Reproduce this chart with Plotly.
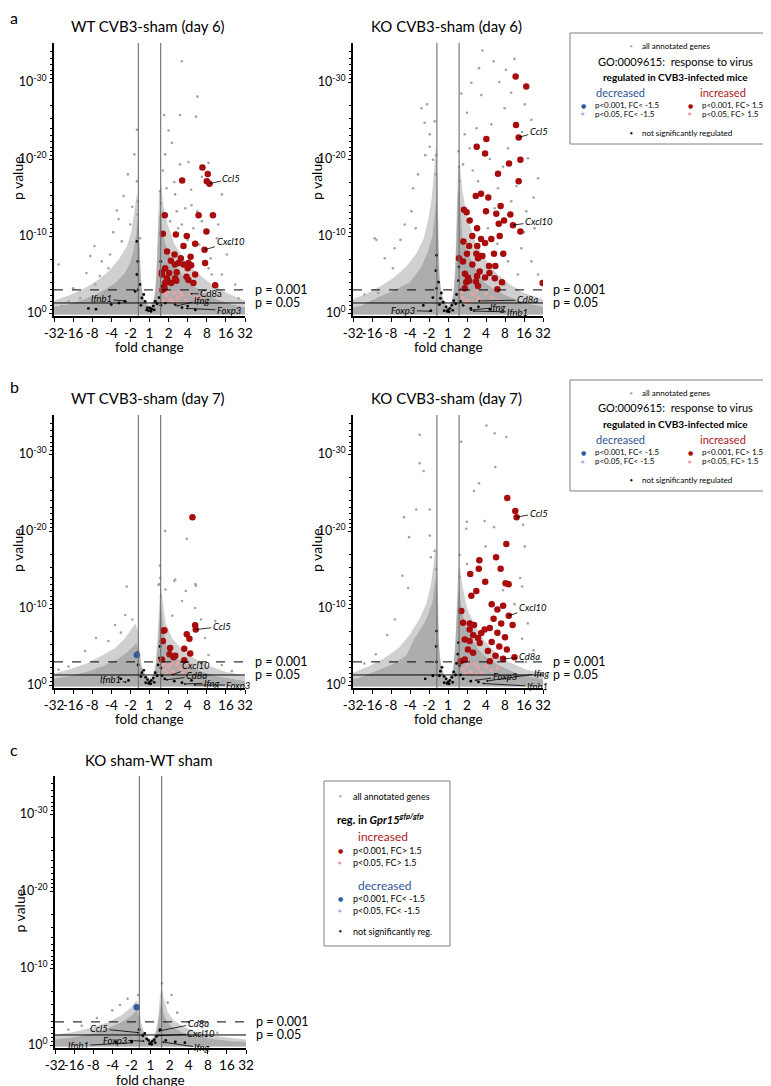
import math
import plotly.graph_objects as go

W, H = 771, 1086
FONT = "Lato"
PPU = 7.7  # pixels per -log10(p) unit

# ---------------- axis ticks ----------------
X_TICK_VALS = [-5, -4, -3, -2, -1, 0, 1, 2, 3, 4, 5]
X_TICK_TEXT = ["-32", "-16", "-8", "-4", "-2", "1", "2", "4", "8", "16", "32"]
Y_TICK_VALS = [0, 10, 20, 30]
Y_TICK_TEXT = ["10<sup>0</sup>", "10<sup>-10</sup>", "10<sup>-20</sup>", "10<sup>-30</sup>"]
FC_CUT = math.log2(1.5)
P001 = 3.0
P05 = -math.log10(0.05)

# ---------------- data (x = log2 fold change, y = -log10 p) ----------------
# panel a, WT day 6
A_WT_CORE = [(-5,-0.2),(-5,0.8),(-4.3,1.1),(-3.5,1.7),(-2.8,2.4),(-2.2,3.2),(-1.7,4.1),(-1.3,5.2),(-1.0,6.6),(-0.82,8.3),(-0.7,10.2),(-0.62,12.5),(-0.56,10),(-0.5,6),(-0.44,3.5),(-0.33,2.0),(-0.18,1.1),(0,0.6),(0.16,1.1),(0.28,2.2),(0.36,4.5),(0.43,8.5),(0.5,12.5),(0.58,13.5),(0.66,11),(0.82,9),(1.05,7.5),(1.35,6),(1.75,4.8),(2.2,3.7),(2.8,2.7),(3.5,1.8),(4.3,1.1),(5,0.7),(5,-0.2)]
A_WT_HALO = [(-5,-0.2),(-5,1.6),(-4.2,2.3),(-3.4,3.2),(-2.7,4.3),(-2.1,5.5),(-1.6,7.0),(-1.2,8.6),(-0.95,10.5),(-0.8,13),(-0.66,15.5),(-0.58,14),(-0.52,9),(-0.47,5),(-0.38,2.8),(-0.25,1.6),(0,1.0),(0.2,1.6),(0.3,3),(0.37,6),(0.44,11),(0.5,15.5),(0.6,17),(0.72,14),(0.95,11.5),(1.3,9),(1.8,7),(2.4,5.4),(3.1,4.0),(3.9,2.8),(4.6,2.0),(5,1.6),(5,-0.2)]
A_WT_GRAY = [(1.69,32.7),(2.51,28.1),(0.77,25.7),(1.6,25.7),(2.43,25.5),(-0.66,23.8),(1.17,22.1),(1.0,23.7),(0.82,20.6),(1.6,19.3),(2.04,19.6),(2.74,17.7),(3.09,19.5),(-1.13,18.0),(-1.36,15.2),(-0.79,20.6),(-0.66,17.1),(-1.71,13.3),(-1.62,12.2),(-0.49,9.7),(-2.88,8.7),(-3.1,7.4),(-4.76,6.3),(-2.06,7.6),(-1.45,9.3),(-2.15,5.8),(-2.5,6.7),(1.34,15.4),(1.87,13.6),(2.18,16.0),(2.3,11.0),(2.74,11.9),(3.79,15.4),(3.53,9.7),(4.05,7.6),(3.79,5.0),(4.49,3.7),(4.66,1.9),(3.09,5.8),(3.26,5.0),(1.43,13.2),(1.08,11.9),(1.69,11.5),(-3.63,1.9),(-4.24,1.5),(-4.59,0.9),(-2.32,2.8),(-2.84,3.7),(-0.6,14.5),(-0.63,12.8),(0.55,15.8),(0.6,14.2),(2.6,8.9),(3.2,7.1),(2.0,9.5),(0.7,18.5),(1.3,17.0),(0.9,16.2),(2.2,14.0),(1.5,11.0),(2.5,13.2),(3.6,11.5),(4.2,9.0),(-1.0,11.5),(-0.9,13.8),(-1.9,10.5),(-2.6,4.8),(-3.3,5.2),(-4.0,3.2)]
A_WT_BLACK = [(-0.4,1.95),(-0.23,1.5),(0.03,0.65),(0.12,0.5),(-0.1,0.7),(0.2,0.9),(0.3,1.5),(0.5,2.0),(-0.3,2.4),(-0.6,3.0),(-0.66,5.0),(-0.61,6.7),(-0.66,9.3),(0.59,6.7),(0.56,5.0),(0.65,3.5),(-0.5,3.7),(-0.75,2.8),(-1.27,1.5),(-1.6,1.3),(-2.0,1.1),(0.82,1.3),(1.35,1.1),(1.7,0.7),(2.0,0.9),(2.4,0.4),(-0.05,0.3),(0.08,0.2),(-0.15,0.4),(0.25,0.4),(0.4,1.2),(-0.45,1.0),(0.6,1.0),(-2.8,0.5),(-3.2,0.6)]
A_WT_PINK = [(0.9,2.2),(1.1,1.8),(1.3,2.6),(1.5,2.0),(1.7,2.3),(2.1,2.5),(1.2,1.5),(0.75,1.6),(1.9,1.7),(2.4,2.1),(1.0,2.8),(1.45,1.4),(0.8,2.5),(1.6,2.8),(2.7,1.9)]
A_WT_BLUE = []
A_WT_RED = [(2.77,18.9),(3.05,18.05),(3.0,17.1),(3.14,16.8),(1.71,17.2),(2.57,12.7),(3.32,12.7),(0.80,12.7),(2.98,10.6),(1.38,10.2),(1.95,10.0),(0.70,10.3),(2.39,9.0),(1.78,8.7),(2.88,8.2),(0.92,8.0),(1.31,7.6),(1.12,6.8),(1.64,7.1),(2.15,7.3),(1.52,6.5),(2.04,6.5),(1.78,6.3),(2.91,6.5),(0.82,5.8),(1.33,6.3),(1.03,5.2),(1.43,5.3),(2.0,5.8),(2.18,6.2),(2.39,5.0),(0.65,5.3),(1.94,4.7),(1.34,4.5),(0.96,4.1),(0.82,3.9),(1.13,3.9),(1.40,4.2),(2.04,4.3),(2.30,3.9),(3.44,3.6),(0.79,3.2),(0.91,4.5),(0.68,3.0),(0.65,5.0)]
# gene labels: (label, italic, target x, target y, dx px, dy px)
A_WT_GENES = [("Ccl5",True,3.14,16.8,22,-5),("Cxcl10",True,2.88,8.2,26,-8),("Cd8a",False,2.13,2.5,21,0),
              ("Ifnb1",True,-1.26,1.56,-24,-2),("Ifng",True,1.41,0.9,25,-6),("Foxp3",True,1.9,0.6,43,2)]

# panel a, KO day 6
A_KO_CORE = [(-5,-0.2),(-5,0.7),(-4.5,1.0),(-3.7,2.0),(-2.8,3.0),(-2.0,4.0),(-1.4,6.0),(-1.05,8.0),(-0.82,10.0),(-0.7,12.5),(-0.62,15),(-0.55,12),(-0.5,7),(-0.42,3.5),(-0.3,2),(-0.15,1.0),(0,0.5),(0.15,1.0),(0.28,2.2),(0.38,5),(0.45,10),(0.52,15.5),(0.6,16),(0.68,12),(0.75,10),(1.0,8),(1.4,6),(1.9,4),(2.5,3),(3.3,2),(4.2,1.2),(5,0.8),(5,-0.2)]
A_KO_HALO = [(-5,-0.2),(-5,1.8),(-4.3,2.5),(-3.6,3.4),(-2.9,4.5),(-2.2,6),(-1.7,7.6),(-1.3,9.5),(-1.05,12),(-0.85,15),(-0.72,19),(-0.62,22),(-0.55,17),(-0.5,10),(-0.45,5),(-0.35,2.8),(-0.2,1.5),(0,1.0),(0.2,1.5),(0.3,3),(0.38,6),(0.45,12),(0.52,18),(0.6,20),(0.75,16),(1.0,12.5),(1.4,9.5),(1.9,7.2),(2.5,5.3),(3.2,3.8),(4.0,2.6),(5,1.8),(5,-0.2)]
A_KO_GRAY = [(1.81,34.1),(2.4,32.7),(3.05,31.6),(1.63,31.8),(1.23,29.9),(1.75,28.3),(-1.1,27.1),(-1.4,26.6),(-1.23,24.7),(-0.96,23.2),(-0.7,24.9),(-0.96,21.6),(-0.79,19.9),(-1.58,18.0),(-1.84,16.2),(0.88,23.2),(1.14,21.4),(2.28,24.5),(2.98,26.6),(3.33,28.6),(4.04,27.1),(4.39,25.1),(3.16,21.4),(4.21,20.1),(4.74,17.5),(2.63,16.2),(1.58,17.1),(0.79,19.3),(0.61,17.1),(2.46,13.6),(3.33,14.5),(4.12,13.2),(4.56,11.0),(3.86,8.4),(4.39,6.7),(4.74,5.0),(3.16,6.7),(3.68,5.0),(2.98,3.7),(-3.86,9.7),(-3.77,9.5),(-3.33,7.1),(-2.81,8.4),(-2.28,11.5),(-1.93,13.2),(-2.9,5.8),(-4.39,2.4),(-3.68,2.6),(-4.0,1.5),(-0.62,20.5),(-0.65,18.0),(0.55,21.0),(0.58,19.0),(2.1,11.0),(2.6,9.0),(3.6,16.5),(1.3,18.5),(2.2,20.0),(3.9,23.5),(1.0,26.0),(2.7,30.0),(3.5,33.0),(0.7,28.5),(1.5,24.0),(2.9,19.0),(4.5,15.0),(4.0,10.5),(-1.2,20.5),(-1.7,11.0),(-2.5,9.5)]
A_KO_BLACK = [(-0.4,1.9),(-0.25,1.4),(0.0,0.4),(0.1,0.6),(-0.1,0.8),(0.2,1.0),(0.3,1.6),(0.45,2.4),(-0.35,2.6),(-0.6,3.2),(-0.64,5.5),(-0.6,7.5),(0.58,6.0),(0.55,4.2),(0.62,3.0),(-0.5,4.0),(-0.8,2.0),(-1.3,1.0),(-0.9,0.3),(0.8,1.0),(1.2,0.6),(1.6,0.8),(2.2,0.5),(-0.05,0.2),(0.06,0.15),(0.25,0.35),(-0.2,0.3),(0.4,1.2),(-0.45,1.1),(0.65,1.5)]
A_KO_PINK = [(0.8,2.0),(1.0,1.6),(1.3,2.4),(1.6,1.9),(2.0,2.6),(1.2,1.4),(0.7,2.7),(1.8,1.5),(2.3,2.0),(1.5,2.8),(0.9,1.3),(2.6,1.6)]
A_KO_BLUE = []
A_KO_RED = [(3.56,30.7),(4.12,29.4),(3.58,24.4),(3.72,22.8),(2.02,22.6),(1.51,21.6),(1.95,20.7),(3.81,19.9),(3.21,19.4),(2.63,18.1),(3.72,17.1),(1.46,15.2),(1.74,15.5),(2.12,15.0),(2.77,13.9),(0.84,13.4),(0.98,13.1),(2.0,13.2),(1.14,12.0),(2.54,12.9),(3.28,12.8),(2.95,12.0),(2.67,11.6),(3.42,11.4),(3.81,10.6),(1.53,11.0),(0.81,9.3),(1.28,10.0),(1.74,9.6),(2.28,9.6),(2.72,10.0),(1.95,9.1),(1.54,8.7),(1.11,8.7),(1.49,7.7),(2.42,7.7),(2.91,7.7),(1.0,7.7),(1.63,7.4),(1.81,7.4),(0.58,7.1),(0.79,6.7),(1.28,6.3),(1.58,7.1),(2.16,6.1),(2.49,6.1),(1.67,5.4),(0.89,5.1),(1.05,4.6),(1.53,4.8),(2.18,5.2),(2.46,4.5),(0.96,4.0),(1.11,4.2),(1.47,4.1),(1.58,3.5),(0.88,3.2),(1.95,4.6),(2.84,4.0),(2.60,3.1),(4.98,3.9)]
A_KO_GENES = [("Ccl5",True,3.72,22.8,20,-6),("Cxcl10",True,3.42,11.4,26,-4),("Cd8a",True,1.58,1.56,49,-1),
              ("Ifng",True,1.14,0.35,28,-3),("Ifnb1",True,1.3,0.25,45,1),("Foxp3",True,-0.88,0.22,-28,-1)]

# panel b, WT day 7
B_WT_CORE = [(-5,-0.2),(-5,0.8),(-4.3,1.1),(-3.3,1.7),(-2.4,2.5),(-1.7,3.3),(-1.2,4.2),(-0.85,5.0),(-0.7,5.5),(-0.6,4.8),(-0.5,3.0),(-0.35,1.7),(-0.15,0.9),(0,0.5),(0.15,0.9),(0.3,2.0),(0.42,4.5),(0.5,7.5),(0.57,10.5),(0.63,9.5),(0.72,7),(0.9,5.2),(1.2,4.0),(1.6,3.2),(2.1,2.4),(2.8,1.7),(3.6,1.1),(4.5,0.7),(5,0.5),(5,-0.2)]
B_WT_HALO = [(-5,-0.2),(-5,1.5),(-4.2,2.0),(-3.3,2.8),(-2.5,3.8),(-1.8,4.8),(-1.3,6.0),(-0.95,7.2),(-0.75,8.0),(-0.6,7),(-0.52,4.5),(-0.4,2.4),(-0.2,1.3),(0,0.9),(0.2,1.3),(0.32,2.8),(0.42,6),(0.5,10),(0.58,13),(0.68,11),(0.85,8),(1.2,6),(1.7,4.6),(2.3,3.5),(3.1,2.5),(4.0,1.7),(5,1.2),(5,-0.2)]
B_WT_GRAY = [(0.82,20.0),(1.95,19.0),(0.56,13.9),(1.35,13.7),(0.47,13.0),(2.43,12.9),(-1.19,12.8),(0.52,13.1),(1.3,13.5),(2.4,13.1),(1.9,12.2),(0.84,12.4),(-1.8,7.8),(-2.8,6.1),(-3.37,4.4),(-4.24,2.4),(-4.76,2.0),(2.91,6.1),(3.09,3.9),(3.79,2.6),(4.31,1.8),(2.39,10.0),(1.7,10.9),(3.44,8.3),(-1.27,9.1),(-2.15,5.7),(0.6,11.5),(0.55,15.5),(1.2,9.0),(2.7,8.5),(-0.9,8.5),(-1.5,6.8)]
B_WT_BLACK = [(-0.4,1.6),(-0.2,1.0),(0.0,0.4),(0.1,0.6),(-0.1,0.7),(0.2,0.9),(0.3,1.6),(0.45,2.6),(-0.3,1.9),(-0.6,2.6),(-0.62,4.2),(0.55,5.0),(0.52,3.5),(0.6,2.2),(-1.1,0.6),(-1.5,0.8),(0.8,0.8),(1.3,0.5),(1.7,0.3),(2.2,0.6),(-0.05,0.2),(0.06,0.15),(0.25,0.35),(-0.2,0.3),(0.4,1.2),(-0.45,1.1),(0.65,1.2),(0.9,1.5)]
B_WT_PINK = [(0.8,2.0),(1.0,2.4),(1.2,1.8),(1.4,2.6),(1.6,2.1),(1.8,2.5),(2.0,1.9),(0.9,1.5),(1.3,1.5),(1.7,1.6),(1.1,2.8),(1.5,2.9),(2.1,2.7),(0.75,2.7)]
B_WT_BLUE = [(-0.66,3.9)]
B_WT_RED = [(2.25,21.8),(2.39,7.75),(2.42,7.2),(1.95,6.6),(2.09,6.0),(0.73,7.05),(0.70,5.7),(1.08,4.8),(1.82,4.7),(2.13,4.1),(1.05,4.0),(1.35,3.8),(1.26,3.6),(0.65,3.3),(1.82,3.2),(0.78,7.1)]
B_WT_GENES = [("Ccl5",True,2.42,7.2,26,-3),("Cxcl10",True,1.15,1.3,25,-9),("Cd8a",True,0.84,0.65,31,-4),
              ("Ifng",True,1.78,0.13,28,-1),("Foxp3",True,2.3,0.0,45,0),("Ifnb1",True,-1.19,0.35,-16,-3)]

# panel b, KO day 7
B_KO_CORE = [(-5,-0.2),(-5,0.8),(-4.7,0.9),(-3.8,1.8),(-3.0,2.6),(-2.2,3.8),(-1.75,6.1),(-1.3,7.8),(-1.05,9.1),(-0.8,11),(-0.66,14),(-0.56,11),(-0.5,6),(-0.42,3.2),(-0.3,1.8),(-0.15,0.9),(0,0.5),(0.15,0.9),(0.28,2),(0.38,5),(0.46,9),(0.53,12),(0.6,12.5),(0.7,10),(0.9,8),(1.2,6.2),(1.6,4.6),(2.1,3.4),(2.8,2.4),(3.6,1.5),(4.4,1.0),(5,0.7),(5,-0.2)]
B_KO_HALO = [(-5,-0.2),(-5,1.6),(-4.2,2.4),(-3.4,3.4),(-2.6,4.8),(-2.0,6.6),(-1.5,8.6),(-1.15,10.5),(-0.9,13),(-0.75,16),(-0.64,18),(-0.56,14),(-0.5,8),(-0.45,4.2),(-0.35,2.5),(-0.2,1.4),(0,1.0),(0.2,1.4),(0.32,2.8),(0.4,6),(0.47,11),(0.54,15),(0.62,15.5),(0.75,13),(1.0,10),(1.4,7.8),(1.9,5.8),(2.5,4.2),(3.2,3.0),(4.1,2.0),(5,1.5),(5,-0.2)]
B_KO_GRAY = [(2.02,33.7),(2.46,32.7),(3.07,32.2),(0.7,31.6),(-1.49,32.5),(-1.49,28.8),(-1.28,27.8),(2.49,28.3),(1.63,26.2),(1.37,25.2),(-1.67,22.8),(-2.32,21.8),(-0.96,22.8),(-2.05,19.2),(-0.96,19.4),(0.96,20.3),(0.99,21.2),(1.93,21.3),(2.42,20.5),(3.95,20.8),(4.04,18.0),(1.98,18.0),(0.61,16.9),(1.0,15.7),(-0.7,17.4),(-0.9,16.6),(-2.4,14.2),(-2.1,12.6),(3.8,13.9),(3.9,12.8),(2.9,12.3),(3.5,10.5),(4.2,8.0),(3.9,6.0),(4.5,4.5),(4.1,3.0),(-3.2,6.5),(-2.8,8.5),(-3.8,4.0),(-4.4,2.8),(0.6,14.0),(-0.62,15.0)]
B_KO_BLACK = [(-0.4,1.8),(-0.2,1.1),(0.0,0.4),(0.1,0.6),(-0.1,0.8),(0.2,1.0),(0.3,1.7),(0.45,2.8),(-0.32,2.3),(-0.6,3.0),(-0.62,5.0),(-0.6,7.0),(0.55,5.5),(0.52,4.0),(0.6,2.5),(-0.8,1.2),(-1.2,0.8),(0.8,0.8),(1.2,0.5),(1.6,0.4),(-0.05,0.2),(0.06,0.15),(0.25,0.35),(-0.2,0.3),(0.4,1.3),(-0.45,1.2),(0.65,1.3)]
B_KO_PINK = [(0.8,2.0),(1.0,2.5),(1.2,1.7),(1.4,2.7),(1.6,2.2),(1.8,1.6),(2.0,2.4),(2.3,1.9),(0.9,1.5),(1.5,1.4),(2.6,2.2),(1.1,2.9)]
B_KO_BLUE = []
B_KO_RED = [(3.12,24.3),(3.54,22.6),(3.61,21.8),(3.07,18.3),(2.53,16.6),(1.65,16.2),(1.62,15.1),(2.77,15.1),(1.17,14.4),(1.96,13.4),(3.03,13.2),(3.19,13.1),(1.49,12.2),(1.23,11.6),(0.70,9.6),(0.79,8.1),(1.14,8.0),(1.37,7.8),(1.14,7.2),(1.32,6.5),(1.58,6.1),(1.75,6.75),(1.93,7.2),(1.67,5.45),(1.14,5.7),(0.88,5.9),(1.05,4.6),(1.32,4.2),(0.67,3.1),(0.88,3.3),(2.3,10.5),(2.6,9.8),(2.9,10.3),(3.2,9.0),(2.4,8.6),(2.8,8.0),(3.4,7.8),(2.2,7.4),(2.6,6.8),(3.0,6.2),(2.3,5.6),(2.7,5.0),(3.1,4.6),(2.1,4.4),(2.5,3.8),(2.9,3.4),(2.2,3.1),(3.5,3.6)]
B_KO_GENES = [("Ccl5",True,3.61,21.8,22,-4),("Cxcl10",True,3.2,9.0,24,-8),("Cd8a",True,2.9,3.4,26,-2),
              ("Foxp3",True,1.4,0.6,30,-4),("Ifng",True,2.0,0.5,55,-8),("Ifnb1",True,1.8,0.2,55,3)]

# panel c, KO sham - WT sham
C_CORE = [(-5,-0.2),(-5,0.7),(-4,1.0),(-3,1.5),(-2.2,2.2),(-1.5,3.0),(-1.0,3.8),(-0.7,4.5),(-0.6,3.5),(-0.5,2.2),(-0.35,1.3),(-0.15,0.7),(0,0.4),(0.15,0.7),(0.3,1.4),(0.42,3),(0.5,5),(0.57,6),(0.65,4.5),(0.8,3.2),(1.1,2.4),(1.6,1.7),(2.3,1.2),(3.2,0.8),(4.2,0.5),(5,0.4),(5,-0.2)]
C_HALO = [(-5,-0.2),(-5,1.3),(-4,1.7),(-3,2.3),(-2.2,3.0),(-1.5,3.9),(-1.0,4.9),(-0.72,5.8),(-0.6,4.8),(-0.5,3.0),(-0.35,1.8),(-0.15,1.0),(0,0.7),(0.15,1.0),(0.3,2.0),(0.42,4),(0.5,6.5),(0.58,7.5),(0.7,6),(0.9,4.3),(1.2,3.2),(1.7,2.4),(2.4,1.7),(3.3,1.2),(4.2,0.9),(5,0.7),(5,-0.2)]
C_GRAY = [(-1.2,6.0),(-2.0,4.5),(-2.8,3.5),(-3.6,2.5),(-4.3,2.0),(0.9,5.5),(1.4,4.2),(2.0,3.0),(2.7,2.3),(3.5,1.6),(0.6,8.0),(-0.65,6.5),(1.1,6.5),(-1.6,5.2)]
C_BLACK = [(-0.4,1.2),(-0.2,0.8),(0.0,0.3),(0.1,0.5),(-0.1,0.6),(0.2,0.7),(0.3,1.1),(-0.3,1.5),(-0.6,2.0),(0.5,2.0),(-1.0,0.5),(0.8,0.6),(1.3,0.4),(-0.05,0.15),(0.06,0.1),(0.25,0.3),(-1.8,0.4),(1.8,0.3)]
C_PINK = []
C_BLUE = [(-0.72,4.9)]
C_RED = []
C_GENES = [("Ccl5",True,-0.6,1.6,-40,-4),("Cd8a",True,0.4,1.8,40,-8),("Cxcl10",True,0.3,1.2,45,-2),
           ("Foxp3",True,-0.3,0.5,-30,-1),("Ifnb1",True,-0.9,0.3,-55,3),("Ifng",True,0.6,0.4,40,6)]

# ---------------- layout geometry (pixels) ----------------
PANELS = [
    dict(title="WT CVB3-sham (day 6)", left=46, right=237, top=35, zero=305, ttl_y=18, fc_dy=34,
         core=A_WT_CORE, halo=A_WT_HALO, gray=A_WT_GRAY, black=A_WT_BLACK, pink=A_WT_PINK, blue=A_WT_BLUE, red=A_WT_RED, genes=A_WT_GENES),
    dict(title="KO CVB3-sham (day 6)", left=345, right=535, top=35, zero=305, ttl_y=18, fc_dy=34,
         core=A_KO_CORE, halo=A_KO_HALO, gray=A_KO_GRAY, black=A_KO_BLACK, pink=A_KO_PINK, blue=A_KO_BLUE, red=A_KO_RED, genes=A_KO_GENES),
    dict(title="WT CVB3-sham (day 7)", left=46, right=237, top=407, zero=677, ttl_y=390, fc_dy=34,
         core=B_WT_CORE, halo=B_WT_HALO, gray=B_WT_GRAY, black=B_WT_BLACK, pink=B_WT_PINK, blue=B_WT_BLUE, red=B_WT_RED, genes=B_WT_GENES),
    dict(title="KO CVB3-sham (day 7)", left=345, right=535, top=407, zero=677, ttl_y=390, fc_dy=34,
         core=B_KO_CORE, halo=B_KO_HALO, gray=B_KO_GRAY, black=B_KO_BLACK, pink=B_KO_PINK, blue=B_KO_BLUE, red=B_KO_RED, genes=B_KO_GENES),
    dict(title="KO sham-WT sham", left=47, right=238, top=768, zero=1037, ttl_y=752, fc_dy=35,
         core=C_CORE, halo=C_HALO, gray=C_GRAY, black=C_BLACK, pink=C_PINK, blue=C_BLUE, red=C_RED, genes=C_GENES),
]

GRAY = "#a3a3a3"
HALO = "#d0d0d0"
CORE = "#adadad"
RED = "#a80c0c"
PINK = "#e6a3a3"
BLUE = "#2e58a6"
DECR = "#2f5597"
INCR = "#b01818"

MINOR_Y = sorted({round(M - 10 * math.log10(k), 3) for M in (10, 20, 30, 40) for k in range(2, 10)})

fig = go.Figure()
shapes, annos = [], []
layout = dict(width=W, height=H, autosize=False,
              margin=dict(l=0, r=0, t=0, b=0, pad=0, autoexpand=False), paper_bgcolor="white",
              plot_bgcolor="rgba(0,0,0,0)", showlegend=False, font=dict(family=FONT, color="black"))


def xp(px):
    return px / W


def yp(py):
    return 1 - py / H


def xs(pts):
    return [p[0] for p in pts]


def ys(pts):
    return [p[1] for p in pts]


for i, P in enumerate(PANELS):
    n = i + 1
    xa, ya = ("x" if n == 1 else f"x{n}"), ("y" if n == 1 else f"y{n}")
    bottom = P["zero"] + 3
    ymin = -(bottom - P["zero"]) / PPU
    ymax = (P["zero"] - P["top"]) / PPU
    layout[f"xaxis{'' if n == 1 else n}"] = dict(
        domain=[xp(P["left"]), xp(P["right"])], anchor=ya, range=[-5, 5], automargin=False,
        tickmode="array", tickvals=X_TICK_VALS, ticktext=X_TICK_TEXT, tickangle=0,
        ticks="outside", ticklen=4, tickwidth=1.2, tickcolor="black",
        showline=True, linecolor="black", linewidth=1.6, showgrid=False, zeroline=False,
        tickfont=dict(size=13.5, family=FONT), fixedrange=True)
    layout[f"yaxis{'' if n == 1 else n}"] = dict(
        domain=[yp(bottom), yp(P["top"])], anchor=xa, range=[ymin, ymax], automargin=False,
        tickmode="array", tickvals=Y_TICK_VALS, ticktext=Y_TICK_TEXT, tickangle=0,
        ticks="outside", ticklen=3, tickwidth=1.2, tickcolor="black",
        minor=dict(tickmode="array", tickvals=[v for v in MINOR_Y if v < ymax], ticks="outside",
                   ticklen=2.5, tickwidth=1, tickcolor="black"),
        showline=True, linecolor="black", linewidth=1.6, showgrid=False, zeroline=False,
        tickfont=dict(size=12.5, family=FONT), fixedrange=True)

    # cloud of all annotated genes
    fig.add_trace(go.Scatter(x=xs(P["halo"]), y=ys(P["halo"]), xaxis=xa, yaxis=ya, mode="lines",
                             fill="toself", fillcolor=HALO, line=dict(width=0), hoverinfo="skip"))
    fig.add_trace(go.Scatter(x=xs(P["core"]), y=ys(P["core"]), xaxis=xa, yaxis=ya, mode="lines",
                             fill="toself", fillcolor=CORE, line=dict(width=0), hoverinfo="skip"))
    fig.add_trace(go.Scatter(x=xs(P["gray"]), y=ys(P["gray"]), xaxis=xa, yaxis=ya, mode="markers",
                             marker=dict(size=2.6, color=GRAY)))
    fig.add_trace(go.Scatter(x=xs(P["black"]), y=ys(P["black"]), xaxis=xa, yaxis=ya, mode="markers",
                             marker=dict(size=2.8, color="black")))
    if P["pink"]:
        fig.add_trace(go.Scatter(x=xs(P["pink"]), y=ys(P["pink"]), xaxis=xa, yaxis=ya, mode="markers",
                                 marker=dict(size=4, color=PINK)))
    if P["blue"]:
        fig.add_trace(go.Scatter(x=xs(P["blue"]), y=ys(P["blue"]), xaxis=xa, yaxis=ya, mode="markers",
                                 marker=dict(size=6.5, color=BLUE)))
    if P["red"]:
        fig.add_trace(go.Scatter(x=xs(P["red"]), y=ys(P["red"]), xaxis=xa, yaxis=ya, mode="markers",
                                 marker=dict(size=6.5, color=RED)))

    # threshold lines
    for v in (-FC_CUT, FC_CUT):
        shapes.append(dict(type="line", xref=xa, yref=ya, x0=v, x1=v, y0=ymin, y1=ymax,
                           line=dict(color="#6e6e6e", width=1.1)))
    shapes.append(dict(type="line", xref=xa, yref=ya, x0=-5, x1=5.2, y0=P001, y1=P001,
                       line=dict(color="black", width=1, dash="dash")))
    shapes.append(dict(type="line", xref=xa, yref=ya, x0=-5, x1=5.2, y0=P05, y1=P05,
                       line=dict(color="black", width=1)))
    for yv, t in ((P001, "p = 0.001"), (P05, "p = 0.05")):
        annos.append(dict(xref=f"{xa} domain", yref=ya, x=1.04, y=yv, text=t, showarrow=False,
                          xanchor="left", yanchor="middle", font=dict(size=12.5, family=FONT)))

    # titles and axis titles
    annos.append(dict(xref="paper", yref="paper", x=xp((P["left"] + P["right"]) / 2 - 2), y=yp(P["ttl_y"]),
                      text=P["title"], showarrow=False, xanchor="center", yanchor="middle",
                      font=dict(size=15, family=FONT)))
    annos.append(dict(xref="paper", yref="paper", x=xp(P["left"] - 36), y=yp((P["top"] + P["zero"]) / 2),
                      text="p value", textangle=-90, showarrow=False, xanchor="center", yanchor="middle",
                      font=dict(size=14, family=FONT)))
    annos.append(dict(xref="paper", yref="paper", x=xp((P["left"] + P["right"]) / 2), y=yp(P["zero"] + P["fc_dy"]),
                      text="fold change", showarrow=False, xanchor="center", yanchor="middle",
                      font=dict(size=13.5, family=FONT)))

    # gene labels
    for g, it, gx, gy, dx, dy in P["genes"]:
        annos.append(dict(xref=xa, yref=ya, x=gx, y=gy, text=(f"<i>{g}</i>" if it else g),
                          showarrow=True, ax=dx, ay=dy, arrowhead=2, arrowsize=0.5, arrowwidth=0.8,
                          arrowcolor="black", standoff=0, font=dict(size=9.5, family=FONT)))

# panel letters
for letter, py in (("a", 9), ("b", 378), ("c", 741)):
    annos.append(dict(xref="paper", yref="paper", x=xp(6), y=yp(py), text=letter, showarrow=False,
                      xanchor="center", yanchor="middle", font=dict(size=16, family=FONT)))


def dot(x, y, color, size):
    annos.append(dict(xref="paper", yref="paper", x=xp(x), y=yp(y), text="●", showarrow=False,
                      xanchor="center", yanchor="middle", font=dict(size=size, color=color, family="DejaVu Sans")))


def txt(x, y, s, size=8.5, color="black", anchor="left"):
    annos.append(dict(xref="paper", yref="paper", x=xp(x), y=yp(y), text=s, showarrow=False,
                      xanchor=anchor, yanchor="middle", font=dict(size=size, color=color, family=FONT)))


# legend for a and b
for top in (25, 372):
    shapes.append(dict(type="rect", xref="paper", yref="paper", x0=xp(562), x1=xp(769.5), y0=yp(top), y1=yp(top + 111),
                       line=dict(color="#7f7f7f", width=1)))
    dot(623, top + 13, GRAY, 3)
    txt(632, top + 13, "all annotated genes", 8)
    txt(667, top + 28, "GO:0009615:  response to virus", 11, anchor="center")
    txt(667, top + 44, "<b>regulated in CVB3-infected mice</b>", 10, anchor="center")
    txt(612, top + 59, "decreased", 11, DECR, "center")
    txt(715, top + 59, "increased", 11, INCR, "center")
    dot(575, top + 72, BLUE, 6)
    txt(585, top + 72, "p<0.001, FC< -1.5", 8)
    dot(575, top + 81, "#9fb3d9", 4)
    txt(585, top + 81, "p<0.05, FC< -1.5", 8)
    dot(682, top + 72, RED, 6)
    txt(692, top + 72, "p<0.001, FC> 1.5", 8)
    dot(682, top + 81, PINK, 4)
    txt(692, top + 81, "p<0.05, FC> 1.5", 8)
    dot(623, top + 100, "black", 3)
    txt(632, top + 100, "not significantly regulated", 8)

# legend for c
shapes.append(dict(type="rect", xref="paper", yref="paper", x0=xp(316), x1=xp(442), y0=yp(773), y1=yp(938),
                   line=dict(color="#7f7f7f", width=1)))
dot(332, 788, GRAY, 3)
txt(343, 788, "all annotated genes", 9)
txt(327, 810, "<b>reg. in <i>Gpr15</i><sup><i>gfp/gfp</i></sup></b>", 11)
txt(375, 828, "increased", 12, INCR, "center")
dot(332, 842, RED, 6)
txt(343, 842, "p<0.001, FC> 1.5", 9)
dot(332, 854, PINK, 4)
txt(343, 854, "p<0.05, FC> 1.5", 9)
txt(376, 877, "decreased", 12, DECR, "center")
dot(332, 890, BLUE, 6)
txt(343, 890, "p<0.001, FC< -1.5", 9)
dot(332, 902, "#9fb3d9", 4)
txt(343, 902, "p<0.05, FC< -1.5", 9)
dot(332, 923, "black", 3)
txt(343, 923, "not significantly reg.", 9)

layout["shapes"] = shapes
layout["annotations"] = annos
fig.update_layout(**layout)
fig.write_html("out.html")
